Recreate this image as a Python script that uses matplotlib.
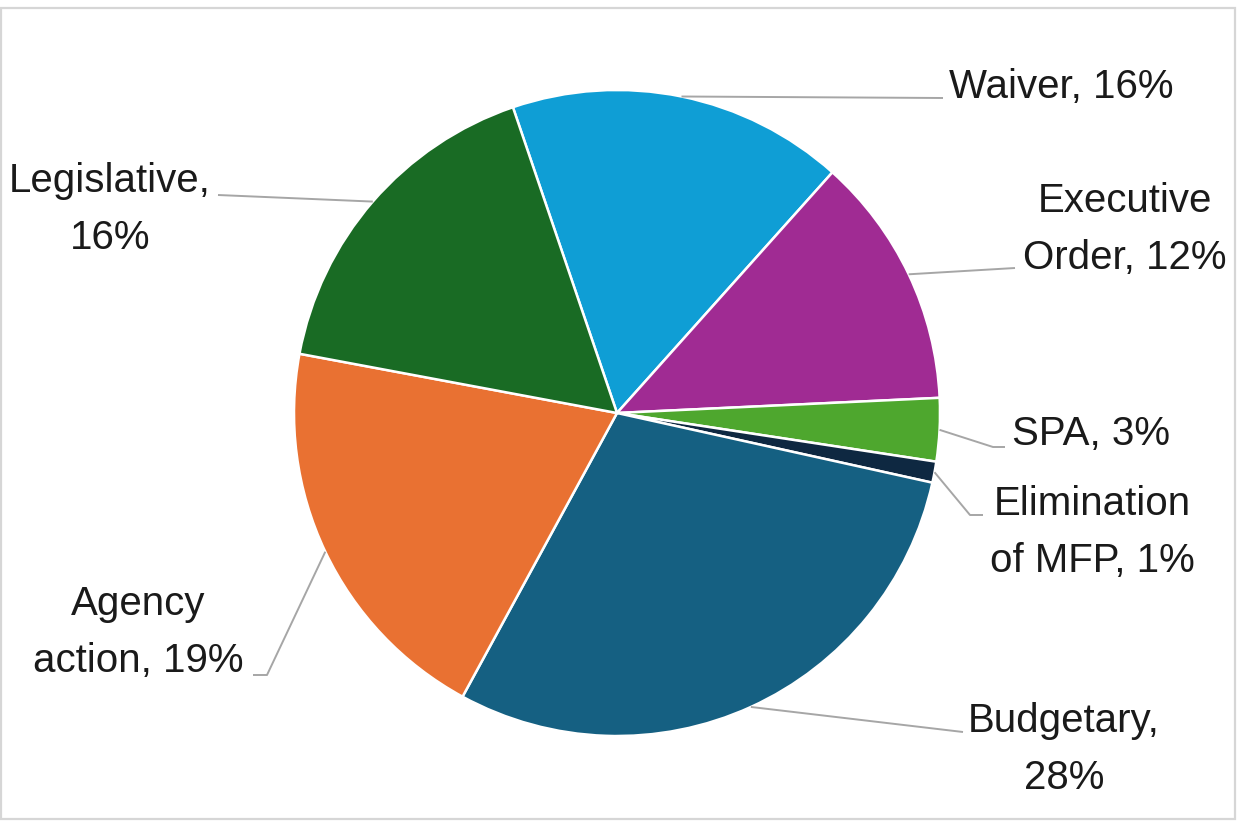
import numpy as np
import matplotlib
matplotlib.use('Agg')
import matplotlib.pyplot as plt
from matplotlib.patches import Rectangle

# Slice data (clockwise order)
categories = ['Waiver', 'Executive Order', 'SPA', 'Elimination of MFP',
              'Budgetary', 'Agency action', 'Legislative']
shares = [16, 12, 3, 1, 28, 19, 16]
colors = ['#0F9ED5', '#A02B93', '#4EA72E', '#0E2841',
          '#156082', '#E97132', '#196B24']
label_lines = [
    ['Waiver, 16%'],
    ['Executive', 'Order, 12%'],
    ['SPA, 3%'],
    ['Elimination', 'of MFP, 1%'],
    ['Budgetary,', '28%'],
    ['Agency', 'action, 19%'],
    ['Legislative,', '16%'],
]

W, H = 1242, 822
plt.rcParams['font.family'] = ['Liberation Sans', 'DejaVu Sans']

fig = plt.figure(figsize=(W / 100, H / 100), dpi=100)
ax = fig.add_axes([0, 0, 1, 1])
ax.set_xlim(0, W)
ax.set_ylim(0, H)
ax.set_aspect('equal')
ax.axis('off')

cx, cy, r = 617, H - 413, 323
wedges, _ = ax.pie(shares, colors=colors, startangle=108.8, counterclock=False,
                   center=(cx, cy), radius=r, frame=True,
                   wedgeprops=dict(edgecolor='white', linewidth=1.8))
ax.set_xlim(0, W)
ax.set_ylim(0, H)
ax.axis('off')

# label layout: (x, first baseline, ha, line step), leader bend points (pixel y down)
layout = [
    (949, 98, 'left', [(943, 98)]),
    (1125, 212, 'center', [(1015, 268)]),
    (1012, 445, 'left', [(993, 447), (1005, 447)]),
    (1092, 515, 'center', [(970, 515), (983, 515)]),
    (1064, 732, 'center', [(963, 732)]),
    (138, 615, 'center', [(267, 675), (253, 675)]),
    (110, 192, 'center', [(218, 195)]),
]
step = 57

for w, lines, (lx, ly, ha, pts) in zip(wedges, label_lines, layout):
    mid = np.deg2rad((w.theta1 + w.theta2) / 2)
    sx = cx + r * np.cos(mid)
    sy = cy + r * np.sin(mid)
    xs = [sx] + [p[0] for p in pts]
    ys = [sy] + [H - p[1] for p in pts]
    ax.plot(xs, ys, color='#A6A6A6', lw=1.4, solid_capstyle='butt', zorder=1)
    for i, line in enumerate(lines):
        ax.text(lx, H - (ly + i * step), line, ha=ha, va='baseline',
                fontsize=29, color='#1a1a1a')

# chart area border
ax.add_patch(Rectangle((1, H - 819), 1234, 811, fill=False,
                       edgecolor='#D6D6D6', lw=1.6, zorder=0))

fig.savefig('out.png', dpi=100, facecolor='white')
